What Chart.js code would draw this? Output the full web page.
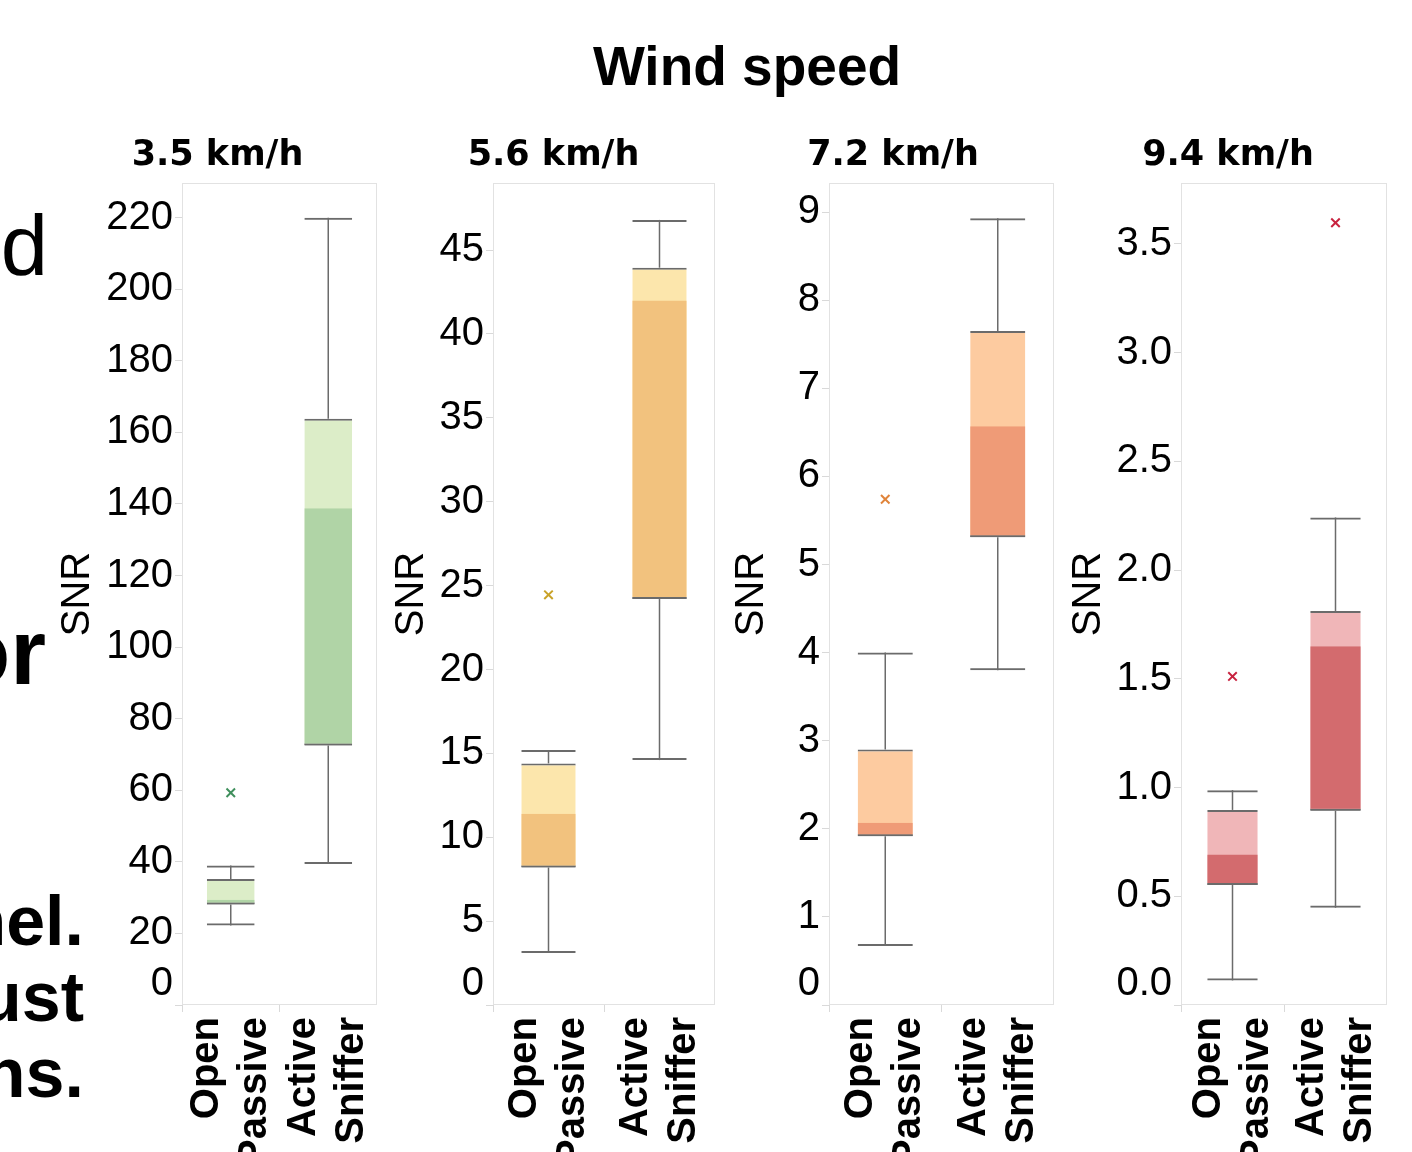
<!DOCTYPE html>
<html>
<head>
<meta charset="utf-8">
<title>Wind speed – SNR</title>
<script src="https://cdn.jsdelivr.net/npm/chart.js@4.4.1/dist/chart.umd.min.js"></script>
<style>
  html, body { margin: 0; padding: 0; background: #fff; }
  body { width: 1412px; height: 1152px; overflow: hidden; position: relative; font-family: 'Liberation Sans', Arial, sans-serif; color: #000; }
  canvas { position: absolute; top: 0; }
  .slide { position: absolute; white-space: nowrap; text-align: right; }
  #mainTitle { position: absolute; left: 447px; width: 600px; top: 39px; text-align: center; font: bold 55px/55px 'Liberation Sans', Arial, sans-serif; }
</style>
</head>
<body>
<!-- bits of the slide text that sit behind the figure, cut off at the left edge -->
<div class="slide" style="right:1364px; top:203px; font:85px/85px 'Liberation Sans', Arial, sans-serif;">d</div>
<div class="slide" style="right:1366px; top:606px; font:bold 92px/92px 'Liberation Sans', Arial, sans-serif;">or</div>
<div class="slide" style="right:1328px; top:883px; font:bold 70px/76px 'Liberation Sans', Arial, sans-serif;">nel.<br>ust<br>ns.</div>

<div id="mainTitle">Wind speed</div>

<canvas id="c35" width="319" height="1165" style="left:58px"></canvas>
<canvas id="c56" width="323" height="1165" style="left:392px"></canvas>
<canvas id="c72" width="322" height="1165" style="left:732px"></canvas>
<canvas id="c94" width="318" height="1165" style="left:1069px"></canvas>

<script>
// ---------- DATA ----------
const categories = [["Open", "Passive"], ["Active", "Sniffer"]];

// 3.5 km/h  [Open Passive, Active Sniffer]
const min35 = [22.2, 39.4];
const q1_35 = [28.1, 72.5];
const med35 = [29.4, 138.8];
const q3_35 = [35.2, 163.8];
const max35 = [39.0, 220.0];
const out35 = [59.3, null];
const ticks35 = [0, 20, 40, 60, 80, 100, 120, 140, 160, 180, 200, 220];

// 5.6 km/h
const min56 = [3.1, 14.6];
const q1_56 = [8.2, 24.2];
const med56 = [11.4, 42.0];
const q3_56 = [14.4, 43.95];
const max56 = [15.2, 46.8];
const out56 = [24.45, null];
const ticks56 = [0, 5, 10, 15, 20, 25, 30, 35, 40, 45];

// 7.2 km/h
const min72 = [0.67, 3.8];
const q1_72 = [1.915, 5.31];
const med72 = [2.07, 6.57];
const q3_72 = [2.9, 7.65];
const max72 = [4.0, 8.93];
const out72 = [5.74, null];
const ticks72 = [0, 1, 2, 3, 4, 5, 6, 7, 8, 9];

// 9.4 km/h
const min94 = [0.113, 0.447];
const q1_94 = [0.552, 0.893];
const med94 = [0.692, 1.65];
const q3_94 = [0.897, 1.812];
const max94 = [0.988, 2.242];
const out94 = [1.511, 3.597];
const ticks94 = [0, 0.5, 1, 1.5, 2, 2.5, 3, 3.5];

// ---------- STYLE / LAYOUT ----------
const whiskerColor = "#6b6b6b";
const edgeColor = "#e2e2e2";

Chart.defaults.font.family = "'Liberation Sans', Arial, sans-serif";
Chart.defaults.color = "#000";

// light frame round the plot area
const plotFrame = {
  id: "plotFrame",
  beforeDatasetsDraw(chart) {
    const { ctx, chartArea: a } = chart;
    ctx.save();
    ctx.strokeStyle = edgeColor;
    ctx.lineWidth = 1;
    ctx.strokeRect(Math.round(a.left) + 0.5, Math.round(a.top) + 0.5,
      Math.round(a.right - a.left) - 1, Math.round(a.bottom - a.top) - 1);
    ctx.restore();
  }
};

function pairs(a, b) {
  return a.map((v, i) => [v, b[i]]);
}

function drawPanel(id, p) {
  const common = { grouped: false, categoryPercentage: 1, barPercentage: 0.49, inflateAmount: 0, borderSkipped: false };

  new Chart(document.getElementById(id), {
    type: "bar",
    data: {
      labels: categories,
      datasets: [
        // whisker stems
        { ...common, data: pairs(p.min, p.q1), barThickness: 1.5, backgroundColor: whiskerColor, order: 6 },
        { ...common, data: pairs(p.q3, p.max), barThickness: 1.5, backgroundColor: whiskerColor, order: 5 },
        // whisker caps
        { ...common, data: pairs(p.min, p.max), backgroundColor: "rgba(0,0,0,0)", borderColor: whiskerColor,
          borderWidth: { top: 2, bottom: 2, left: 0, right: 0 }, order: 4 },
        // whole box (light, Q1 to Q3)
        { ...common, data: pairs(p.q1, p.q3), backgroundColor: p.light, borderColor: whiskerColor,
          borderWidth: { top: 2, bottom: 2, left: 0, right: 0 }, order: 3 },
        // lower half of box (dark, Q1 to median) on top
        { ...common, data: pairs(p.q1, p.med), backgroundColor: p.dark, borderColor: whiskerColor,
          borderWidth: { top: 0, bottom: 2, left: 0, right: 0 }, order: 2 },
        // outliers
        { type: "line", data: p.out, showLine: false, pointStyle: "crossRot", pointRadius: 6,
          pointBorderWidth: 2, borderColor: p.mark, backgroundColor: p.mark, order: 1 }
      ]
    },
    options: {
      responsive: false,
      animation: false,
      events: [],
      layout: { padding: 0, autoPadding: false },
      plugins: {
        legend: { display: false },
        tooltip: { enabled: false },
        title: {
          display: true,
          text: p.title,
          color: "#000",
          font: { family: "'DejaVu Sans', Verdana, sans-serif", size: 35, weight: "bold", lineHeight: 1.2 },
          padding: { top: 135, bottom: 6 }
        }
      },
      scales: {
        x: {
          offset: true,
          border: { display: false },
          grid: { drawOnChartArea: false, tickLength: 7, color: "#d9d9d9", offset: true },
          ticks: {
            autoSkip: false, minRotation: 90, maxRotation: 90, padding: 5, labelOffset: -24,
            color: "#000", font: { size: 40, weight: "bold", lineHeight: 1.2 }
          },
          afterFit: s => { s.height = 160; s.paddingLeft = 0; s.paddingRight = 0; }
        },
        y: {
          min: 0,
          max: p.yMax,
          border: { display: false },
          grid: { drawOnChartArea: false, tickLength: 7, color: "#d9d9d9" },
          afterBuildTicks: s => { s.ticks = p.ticks.map(v => ({ value: v })); },
          ticks: {
            autoSkip: false, padding: 2, color: "#000",
            font: { size: 40, lineHeight: 1.05 },
            // the zero label is pushed up half a line so it stays inside the frame
            callback: v => { const t = v.toFixed(p.dec); return v === 0 ? [t, ""] : t; }
          },
          title: { display: true, text: "SNR", color: "#000", font: { size: 40, lineHeight: 1 }, padding: 0 },
          afterFit: s => { s.width = p.axisWidth; s.paddingTop = 0; s.paddingBottom = 0; }
        }
      }
    },
    plugins: [plotFrame]
  });
}

drawPanel("c35", { title: "3.5 km/h", min: min35, q1: q1_35, med: med35, q3: q3_35, max: max35, out: out35,
  ticks: ticks35, dec: 0, yMax: 229.7, axisWidth: 124, light: "#dcedc8", dark: "#b0d4a6", mark: "#3f8f5c" });
drawPanel("c56", { title: "5.6 km/h", min: min56, q1: q1_56, med: med56, q3: q3_56, max: max56, out: out56,
  ticks: ticks56, dec: 0, yMax: 49.0, axisWidth: 101, light: "#fce6ac", dark: "#f2c27e", mark: "#c9a227" });
drawPanel("c72", { title: "7.2 km/h", min: min72, q1: q1_72, med: med72, q3: q3_72, max: max72, out: out72,
  ticks: ticks72, dec: 0, yMax: 9.33, axisWidth: 97, light: "#fdcba0", dark: "#ef9b77", mark: "#e0843a" });
drawPanel("c94", { title: "9.4 km/h", min: min94, q1: q1_94, med: med94, q3: q3_94, max: max94, out: out94,
  ticks: ticks94, dec: 1, yMax: 3.78, axisWidth: 112, light: "#f0b6b8", dark: "#d36b6e", mark: "#c8233f" });
</script>
</body>
</html>
